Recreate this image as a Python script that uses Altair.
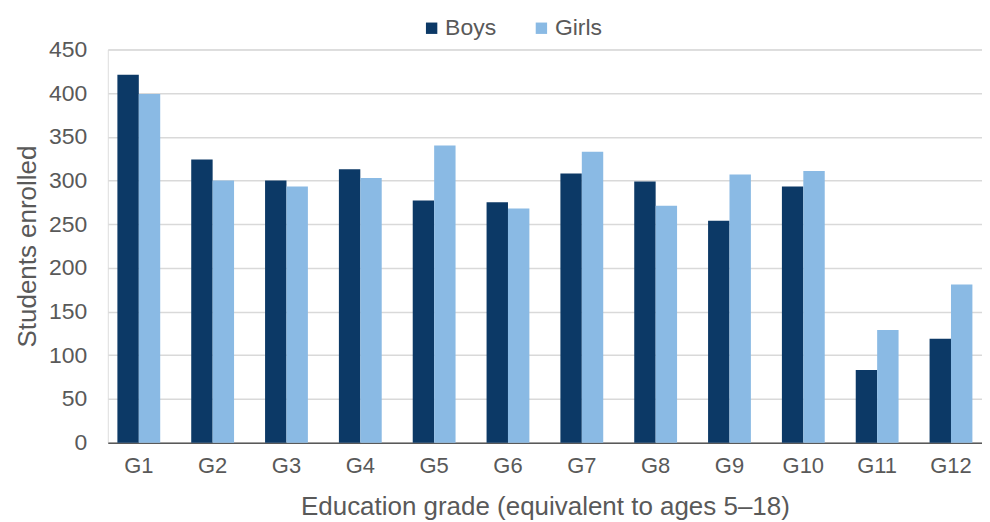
import altair as alt
import pandas as pd

grades = ["G1", "G2", "G3", "G4", "G5", "G6", "G7", "G8", "G9", "G10", "G11", "G12"]
boys = [421, 324, 300, 313, 277, 275, 308, 299, 254, 293, 83, 119]
girls = [399, 300, 293, 303, 340, 268, 333, 271, 307, 311, 129, 181]
series = ["Boys", "Girls"]
colors = ["#0C3966", "#8ABAE4"]
y_ticks = [0, 50, 100, 150, 200, 250, 300, 350, 400, 450]

rows = []
for g, b, w in zip(grades, boys, girls):
    rows.append({"grade": g, "sex": "Boys", "value": b})
    rows.append({"grade": g, "sex": "Girls", "value": w})
df = pd.DataFrame(rows)

FONT = "Liberation Sans"
GRAY = "#595959"

chart = alt.Chart(df).mark_bar().encode(
    x=alt.X(
        "grade:N",
        sort=grades,
        scale=alt.Scale(paddingInner=0.42, paddingOuter=0.13),
        axis=alt.Axis(
            title="Education grade (equivalent to ages 5–18)",
            labelAngle=0,
            labelFontSize=22,
            labelColor=GRAY,
            labelFont=FONT,
            labelPadding=13,
            ticks=False,
            domainColor="#595959",
            domainWidth=1.5,
            titleFontSize=26,
            titleFont=FONT,
            titleColor=GRAY,
            titleFontWeight="normal",
            titlePadding=17,
            grid=False,
        ),
    ),
    xOffset=alt.XOffset("sex:N", sort=series),
    y=alt.Y(
        "value:Q",
        scale=alt.Scale(domain=[0, 450], nice=False),
        axis=alt.Axis(
            title="Students enrolled",
            values=y_ticks,
            labelFontSize=23,
            labelColor=GRAY,
            labelFont=FONT,
            labelPadding=21,
            ticks=False,
            domain=False,
            gridColor="#D9D9D9",
            gridWidth=1.5,
            titleFontSize=26,
            titleFont=FONT,
            titleColor=GRAY,
            titleFontWeight="normal",
            titlePadding=8,
        ),
    ),
    color=alt.Color(
        "sex:N",
        sort=series,
        scale=alt.Scale(domain=series, range=colors),
        legend=alt.Legend(
            title=None,
            orient="none",
            legendX=313,
            legendY=-33,
            direction="horizontal",
            symbolType="square",
            symbolSize=130,
            symbolStrokeWidth=0,
            labelFontSize=23,
            labelFont=FONT,
            labelColor=GRAY,
            columnPadding=33,
            labelOffset=2,
        ),
    ),
).properties(
    width=876,
    height=394,
    padding={"left": 6, "top": 8, "right": 0, "bottom": 0},
).configure_view(stroke=None).configure(background="white")

chart.save("out.html", embed_options={"renderer": "svg", "actions": False})
